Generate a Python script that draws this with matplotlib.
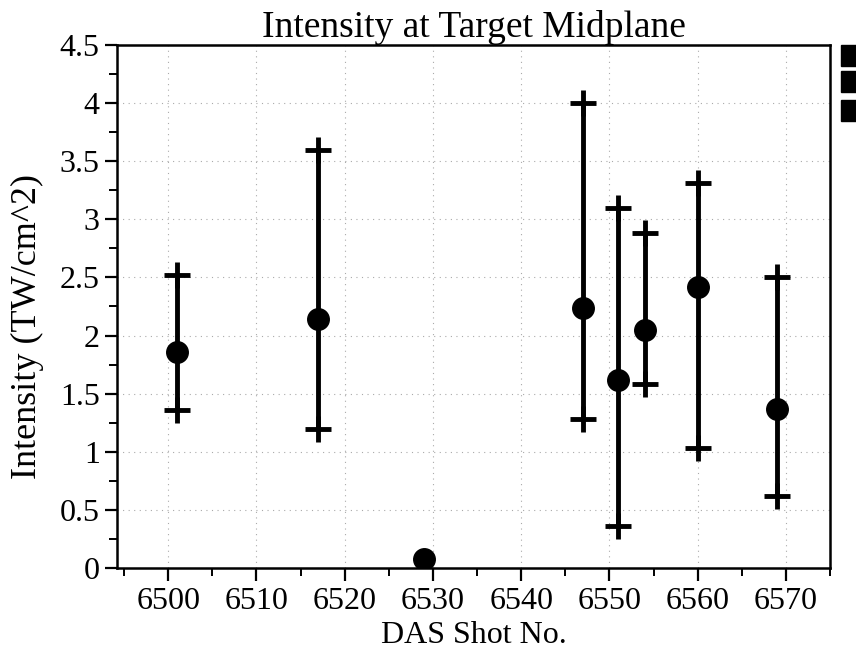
import numpy as np
from matplotlib import pyplot as plt
from matplotlib.patches import Rectangle
from matplotlib.ticker import MultipleLocator

shots = [6501, 6517, 6529, 6547, 6551, 6554, 6560, 6569]
mean = [1.86, 2.14, 0.08, 2.24, 1.62, 2.05, 2.42, 1.37]
upper = [2.52, 3.6, 0.08, 4.0, 3.1, 2.88, 3.31, 2.5]
lower = [1.36, 1.2, 0.08, 1.28, 0.36, 1.58, 1.03, 0.62]
yticklabels = ['0', '0.5', '1', '1.5', '2', '2.5', '3', '3.5', '4', '4.5']

plt.rcParams['font.family'] = ['Liberation Serif', 'DejaVu Serif']

fig = plt.figure(figsize=(8.56, 6.49), dpi=100)
ax = fig.add_axes([0.1367, 0.1248, 0.833, 0.806])

has_bar = [u != l for u, l in zip(upper, lower)]
xs = np.array(shots)[has_bar]
ax.vlines(xs, np.array(lower)[has_bar], np.array(upper)[has_bar], color='black', lw=3.5, zorder=3)
ax.plot(xs, np.array(upper)[has_bar], ls='none', marker='+', ms=19, mew=3.5, color='black', zorder=3)
ax.plot(xs, np.array(lower)[has_bar], ls='none', marker='+', ms=19, mew=3.5, color='black', zorder=3)
ax.plot(shots, mean, ls='none', marker='o', ms=15.5, color='black', zorder=4)

ax.set_xlim(6494.2, 6575.0)
ax.set_ylim(0, 4.5)
ax.xaxis.set_major_locator(MultipleLocator(10))
ax.xaxis.set_minor_locator(MultipleLocator(5))
ax.yaxis.set_minor_locator(MultipleLocator(0.25))
ax.set_yticks(np.arange(0, 4.51, 0.5))
ax.set_yticklabels(yticklabels)

ax.grid(which='major', color='#aaaaaa', ls=(0, (1, 4)), lw=0.8)
ax.set_axisbelow(True)
ax.tick_params(which='major', direction='out', length=9, width=1.6, labelsize=23)
ax.tick_params(axis='x', which='major', pad=5)
ax.tick_params(which='minor', direction='out', length=6, width=1.4)
for s in ax.spines.values():
    s.set_linewidth(1.8)

ax.set_title('Intensity at Target Midplane', fontsize=27, pad=0)
ax.set_xlabel('DAS Shot No.', fontsize=23, labelpad=3)
ax.set_ylabel('Intensity (TW/cm^2)', fontsize=26)
ax.yaxis.set_label_coords(-0.103, 0.462)

for y0 in [0.898, 0.858, 0.814]:
    fig.patches.append(Rectangle((0.9825, y0), 0.0175, 0.032, transform=fig.transFigure, color='black'))

fig.savefig('out.png', dpi=100)
